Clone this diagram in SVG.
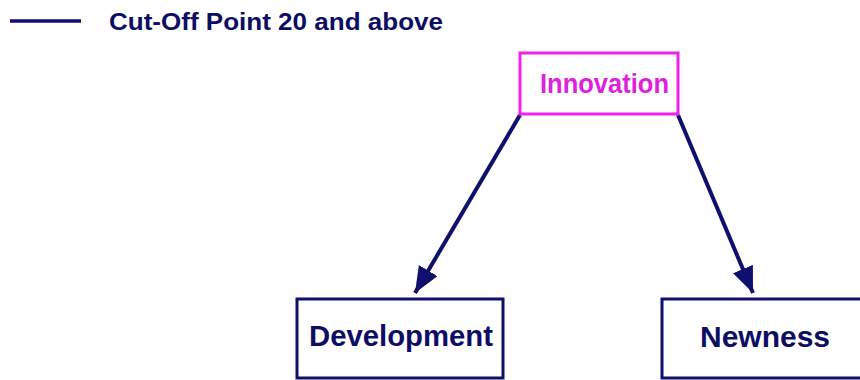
<svg xmlns="http://www.w3.org/2000/svg" width="860" height="380" viewBox="0 0 860 380">
<style>
  .navy { fill: none; stroke: #0f0f6e; stroke-width: 3; }
  .mag { fill: none; stroke: #ee22ee; stroke-width: 3; }
  .t { font-family: "Liberation Sans", Arial, sans-serif; font-weight: bold; }
  .tn { fill: #0d0d66; }
  .tm { fill: #dd22dd; }
  .conn { stroke: #0f0f6e; stroke-width: 4; fill: none; }
</style>
<defs>
  <marker id="arr" viewBox="0 0 12 10" refX="12" refY="5" markerWidth="6.5" markerHeight="5.5" markerUnits="strokeWidth" orient="auto">
    <path d="M0,0 L12,5 L0,10 z" fill="#0f0f6e"/>
  </marker>
</defs>
<rect width="860" height="380" fill="#ffffff"/>
<g id="legend">
  <line x1="10" y1="21" x2="81" y2="21" stroke="#0f0f6e" stroke-width="3.5"/>
  <text class="t tn" x="109" y="30" font-size="24" textLength="334" lengthAdjust="spacingAndGlyphs">Cut-Off Point 20 and above</text>
</g>
<g id="connectors">
  <line class="conn" x1="520" y1="115" x2="415" y2="293" marker-end="url(#arr)"/>
  <line class="conn" x1="678" y1="115" x2="753" y2="293" marker-end="url(#arr)"/>
</g>
<g id="innovation">
  <rect class="mag" x="520" y="53" width="158" height="61"/>
  <text class="t tm" x="540" y="93" font-size="28" textLength="129" lengthAdjust="spacingAndGlyphs">Innovation</text>
</g>
<g id="development">
  <rect class="navy" x="297" y="299" width="206" height="79"/>
  <text class="t tn" x="309" y="346" font-size="29" textLength="184" lengthAdjust="spacingAndGlyphs">Development</text>
</g>
<g id="newness">
  <rect class="navy" x="662" y="299" width="210" height="79"/>
  <text class="t tn" x="700" y="347" font-size="29" textLength="130" lengthAdjust="spacingAndGlyphs">Newness</text>
</g>
</svg>
